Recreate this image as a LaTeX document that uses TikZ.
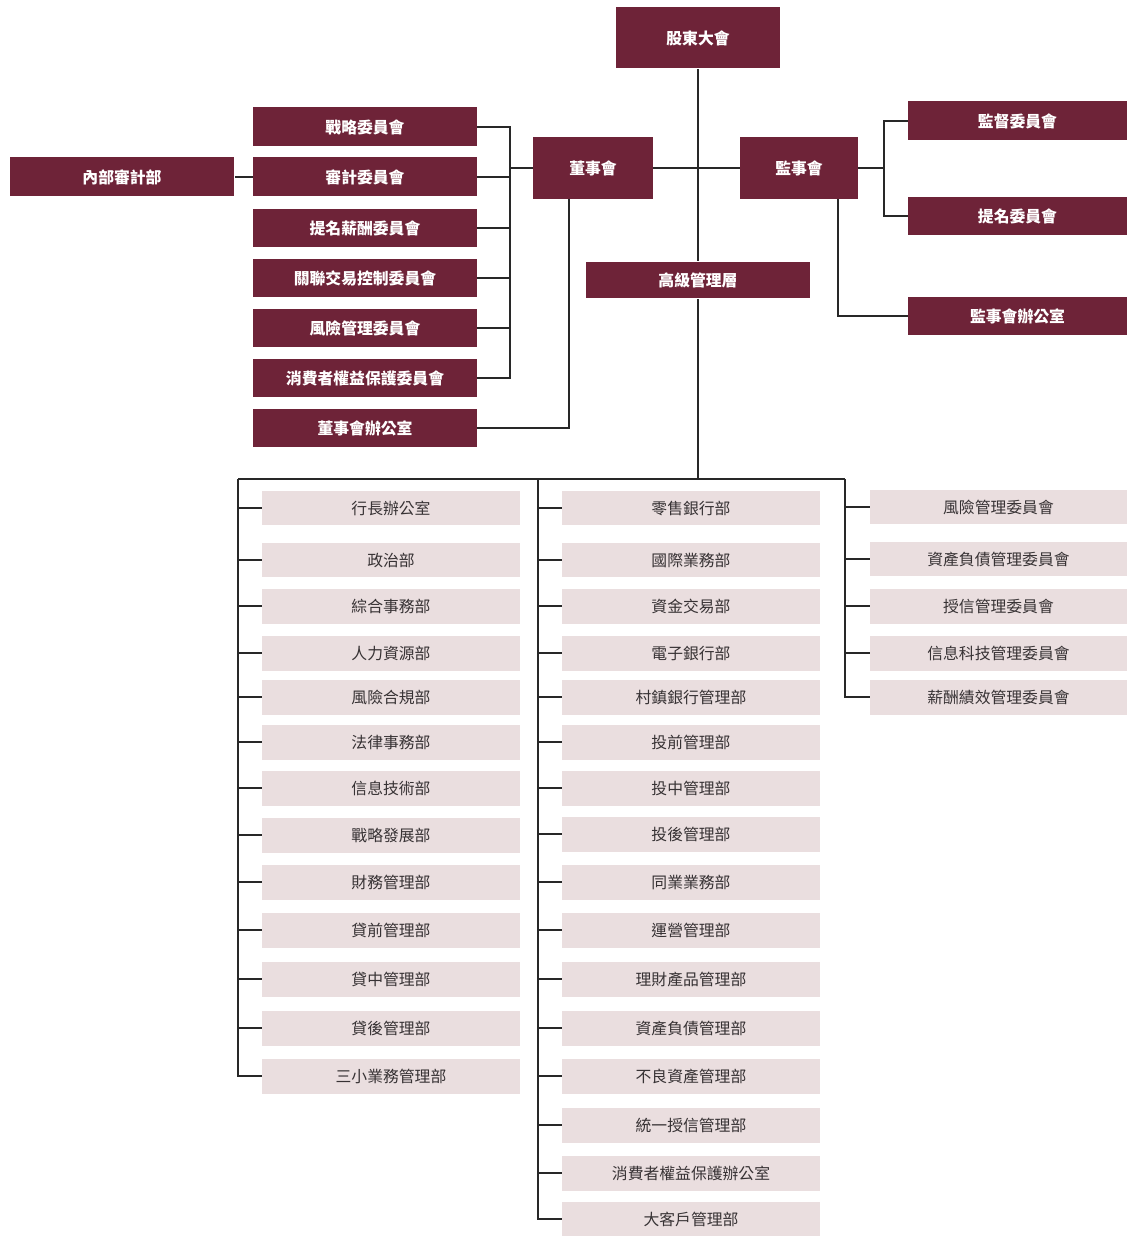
\documentclass[tikz,border=0pt]{standalone}
\usepackage{fontspec}
\setmainfont{Noto Sans CJK TC}
\definecolor{boardred}{RGB}{110,35,56}
\definecolor{deptpink}{RGB}{234,222,223}
\definecolor{depttext}{RGB}{55,50,52}
\definecolor{linegray}{RGB}{40,40,40}

\begin{document}
\begin{tikzpicture}[
			x=0.02cm, y=-0.02cm,
			board/.style={
				fill=boardred, text=white,
				font=\bfseries\fontsize{9}{11}\selectfont,
				inner sep=0pt, minimum width=4.48cm, minimum height=0.78cm
			},
			dept/.style={
				fill=deptpink, text=depttext,
				font=\fontsize{9}{11}\selectfont,
				inner sep=0pt, minimum width=5.16cm, minimum height=0.7cm
			},
			link/.style={draw=linegray, line width=0.7pt}
			]
			\useasboundingbox (0,0) rectangle (1127,1236);
			
			% governance
			\node[board, minimum width=3.28cm, minimum height=1.22cm] (agm) at (698,38) {股東大會};
			\node[board, minimum width=2.4cm, minimum height=1.24cm] (bod) at (593,168) {董事會};
			\node[board, minimum width=2.36cm, minimum height=1.24cm] (sup) at (799,168) {監事會};
			\node[board, minimum height=0.74cm] (mgmt) at (698,280) {高級管理層};
			
			\node[board, minimum width=4.5cm] (audit) at (122,177) {內部審計部};
			\node[board] (c1) at (365,127) {戰略委員會};
			\node[board] (c2) at (365,177) {審計委員會};
			\node[board] (c3) at (365,228) {提名薪酬委員會};
			\node[board] (c4) at (365,278) {關聯交易控制委員會};
			\node[board] (c5) at (365,328) {風險管理委員會};
			\node[board] (c6) at (365,378) {消費者權益保護委員會};
			\node[board] (bodoff) at (365,428) {董事會辦公室};
			
			\node[board, minimum width=4.38cm] (s1) at (1017.5,121) {監督委員會};
			\node[board, minimum width=4.38cm] (s2) at (1017.5,216) {提名委員會};
			\node[board, minimum width=4.38cm] (supoff) at (1017.5,316) {監事會辦公室};
			
			\coordinate (cbus) at (510,168);
			\coordinate (sbus) at (884,168);
			
			\draw[link] (agm) -- (mgmt);
			\draw[link] (bod) -- (sup);
			\draw[link] (audit) -- (c2);
			\draw[link] (bod.west) -- (cbus);
			\draw[link] (c1.east) -| (c6.east -| cbus) -- (c6.east);
			\foreach \c in {c2,c3,c4,c5}
				\draw[link] (\c.east) -- (\c.east -| cbus);
			\draw[link] ([xshift=-0.48cm]bod.south) |- (bodoff.east);
			\draw[link] (sup.east) -- (sbus);
			\draw[link] (s1.west) -| (s2.west -| sbus) -- (s2.west);
			\draw[link] ([xshift=0.78cm]sup.south) |- (supoff.west);
			
			% departments
			\node[dept] (l1) at (391,508) {行長辦公室};
			\node[dept] (l2) at (391,560) {政治部};
			\node[dept] (l3) at (391,606) {綜合事務部};
			\node[dept] (l4) at (391,653) {人力資源部};
			\node[dept] (l5) at (391,697) {風險合規部};
			\node[dept] (l6) at (391,742) {法律事務部};
			\node[dept] (l7) at (391,788) {信息技術部};
			\node[dept] (l8) at (391,835) {戰略發展部};
			\node[dept] (l9) at (391,882) {財務管理部};
			\node[dept] (l10) at (391,930) {貸前管理部};
			\node[dept] (l11) at (391,979) {貸中管理部};
			\node[dept] (l12) at (391,1028) {貸後管理部};
			\node[dept] (l13) at (391,1076) {三小業務管理部};
			
			\node[dept] (m1) at (691,508) {零售銀行部};
			\node[dept] (m2) at (691,560) {國際業務部};
			\node[dept] (m3) at (691,606) {資金交易部};
			\node[dept] (m4) at (691,653) {電子銀行部};
			\node[dept] (m5) at (691,697) {村鎮銀行管理部};
			\node[dept] (m6) at (691,742) {投前管理部};
			\node[dept] (m7) at (691,788) {投中管理部};
			\node[dept] (m8) at (691,834) {投後管理部};
			\node[dept] (m9) at (691,882) {同業業務部};
			\node[dept] (m10) at (691,930) {運營管理部};
			\node[dept] (m11) at (691,979) {理財產品管理部};
			\node[dept] (m12) at (691,1028) {資產負債管理部};
			\node[dept] (m13) at (691,1076) {不良資產管理部};
			\node[dept] (m14) at (691,1125) {統一授信管理部};
			\node[dept] (m15) at (691,1173) {消費者權益保護辦公室};
			\node[dept] (m16) at (691,1219) {大客戶管理部};
			
			\node[dept, minimum width=5.14cm] (r1) at (998.5,507) {風險管理委員會};
			\node[dept, minimum width=5.14cm] (r2) at (998.5,559) {資產負債管理委員會};
			\node[dept, minimum width=5.14cm] (r3) at (998.5,606) {授信管理委員會};
			\node[dept, minimum width=5.14cm] (r4) at (998.5,653) {信息科技管理委員會};
			\node[dept, minimum width=5.14cm] (r5) at (998.5,697) {薪酬績效管理委員會};
			
			\coordinate (mbus) at (698,479);
			\coordinate (lbus) at (238,479);
			\coordinate (cmbus) at (538,479);
			\coordinate (rbus) at (845,479);
			
			\draw[link] (mgmt) -- (mbus);
			\draw[link] (lbus) -- (rbus);
			\draw[link] (lbus) |- (l13.west);
			\draw[link] (cmbus) |- (m16.west);
			\draw[link] (rbus) |- (r5.west);
			\foreach \i in {1,...,12}
				\draw[link] (l\i.west) -- (l\i.west -| lbus);
			\foreach \i in {1,...,15}
				\draw[link] (m\i.west) -- (m\i.west -| cmbus);
			\foreach \i in {1,...,4}
				\draw[link] (r\i.west) -- (r\i.west -| rbus);
			
		\end{tikzpicture}
\end{document}
